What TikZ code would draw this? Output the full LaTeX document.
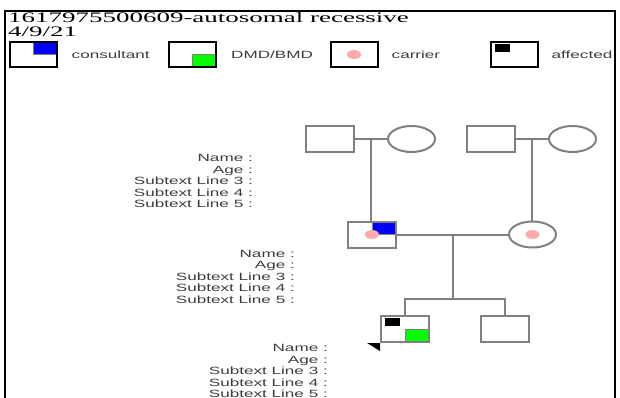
\documentclass[tikz,border=0pt]{standalone}
\usepackage{fontspec}
\newfontfamily\pedsans[FakeStretch=1.63]{Liberation Sans}
\newfontfamily\pedserif[FakeStretch=1.86]{Liberation Serif}
\usetikzlibrary{positioning,shapes.geometric}
\definecolor{linegray}{RGB}{128,128,128}
\definecolor{txtgray}{RGB}{60,60,60}
\definecolor{carrpink}{RGB}{255,170,170}
\definecolor{consblue}{RGB}{0,0,255}
\definecolor{dmdgreen}{RGB}{0,255,0}

% marks drawn inside a symbol
\newcommand{\consmark}{\filldraw[fill=consblue, draw=linegray, line width=0.8pt]
  (path picture bounding box.center) rectangle (path picture bounding box.north east);}
\newcommand{\dmdmark}{\filldraw[fill=dmdgreen, draw=linegray, line width=0.8pt]
  (path picture bounding box.center) rectangle (path picture bounding box.south east);}
\newcommand{\carrmark}{\fill[carrpink] (path picture bounding box.center)
  ellipse [x radius=7pt, y radius=4.5pt];}
\newcommand{\affmark}{\fill[black]
  ([xshift=4pt,yshift=-2pt]path picture bounding box.north west) rectangle ++(15,8);}

\begin{document}
\begin{tikzpicture}[x=1pt, y=-1pt,
  male/.style={rectangle, draw=linegray, line width=2pt, fill=white,
    minimum width=48pt, minimum height=26pt, inner sep=0pt},
  female/.style={ellipse, draw=linegray, line width=2pt, fill=white,
    minimum width=47pt, minimum height=26pt, inner sep=0pt},
  key/.style={rectangle, draw=black, line width=2pt, fill=white,
    minimum width=47pt, minimum height=25pt, inner sep=0pt},
  keytxt/.style={font=\pedsans\fontsize{10.5}{11}\selectfont, text=txtgray, inner sep=0pt},
  info/.style={font=\pedsans\fontsize{10.5}{11.5}\selectfont, text=txtgray,
    align=right, inner sep=0pt},
  link/.style={draw=linegray, line width=2pt},
  frame/.style={draw=black, line width=2pt}
]
\useasboundingbox (0,0) rectangle (620,398);
\draw[frame] (5,410) -- (5,11) -- (615,11) -- (615,410);

% title and legend
\node[font=\pedserif\fontsize{14.5}{14.5}\selectfont, align=left, inner sep=0pt,
  anchor=north west] (ttl) at (8,12) {1617975500609-autosomal recessive\\4/9/21};
\node[key, path picture={\consmark}] (k1) at (33,54.5) {};
\node[keytxt, right=14pt of k1] (t1) {consultant};
\node[key, path picture={\dmdmark}] (k2) at (192.5,54.5) {};
\node[keytxt, right=14pt of k2] (t2) {DMD/BMD};
\node[key, path picture={\carrmark}] (k3) at (354,54.5) {};
\node[keytxt, right=13pt of k3] (t3) {carrier};
\node[key, path picture={\affmark}] (k4) at (514,54.5) {};
\node[keytxt, right=13pt of k4] (t4) {affected};

% generation I
\node[male] (gf1) at (330,139) {};
\node[female, right=32pt of gf1] (gm1) {};
\node[male] (gf2) at (491,139) {};
\node[female, right=32pt of gf2] (gm2) {};

% generation II
\node[male, path picture={\consmark\carrmark}] (fa) at (372,234.5) {};
\node[female, right=111pt of fa, path picture={\carrmark}] (mo) {};

% generation III
\node[male, path picture={\affmark\dmdmark}] (pr) at (405,329) {};
\node[male, right=50pt of pr] (sb) {};
\fill[black] ([xshift=-13pt]pr.south west) -- (pr.south west)
  -- ([yshift=-8pt]pr.south west) -- cycle;

\draw[link] (gf1) -- (gm1) coordinate[midway] (u1);
\draw[link] (u1) -- (u1 |- fa.north);
\draw[link] (gf2) -- (gm2) coordinate[midway] (u2);
\draw[link] (u2) -- (u2 |- mo.north);
\draw[link] (fa) -- (mo) coordinate[midway] (u3);
\draw[link] (u3) -- ++(0,64.5) coordinate (sib);
\draw[link] (pr) |- (sib) -| (sb);

% subtexts
\node[info, below left=1.5pt and 52pt of gf1] (n1)
  {Name :\\Age :\\Subtext Line 3 :\\Subtext Line 4 :\\Subtext Line 5 :};
\node[info, below left=1.5pt and 52pt of fa] (n2)
  {Name :\\Age :\\Subtext Line 3 :\\Subtext Line 4 :\\Subtext Line 5 :};
\node[info, below left=1.5pt and 52pt of pr] (n3)
  {Name :\\Age :\\Subtext Line 3 :\\Subtext Line 4 :\\Subtext Line 5 :};
\end{tikzpicture}
\end{document}
